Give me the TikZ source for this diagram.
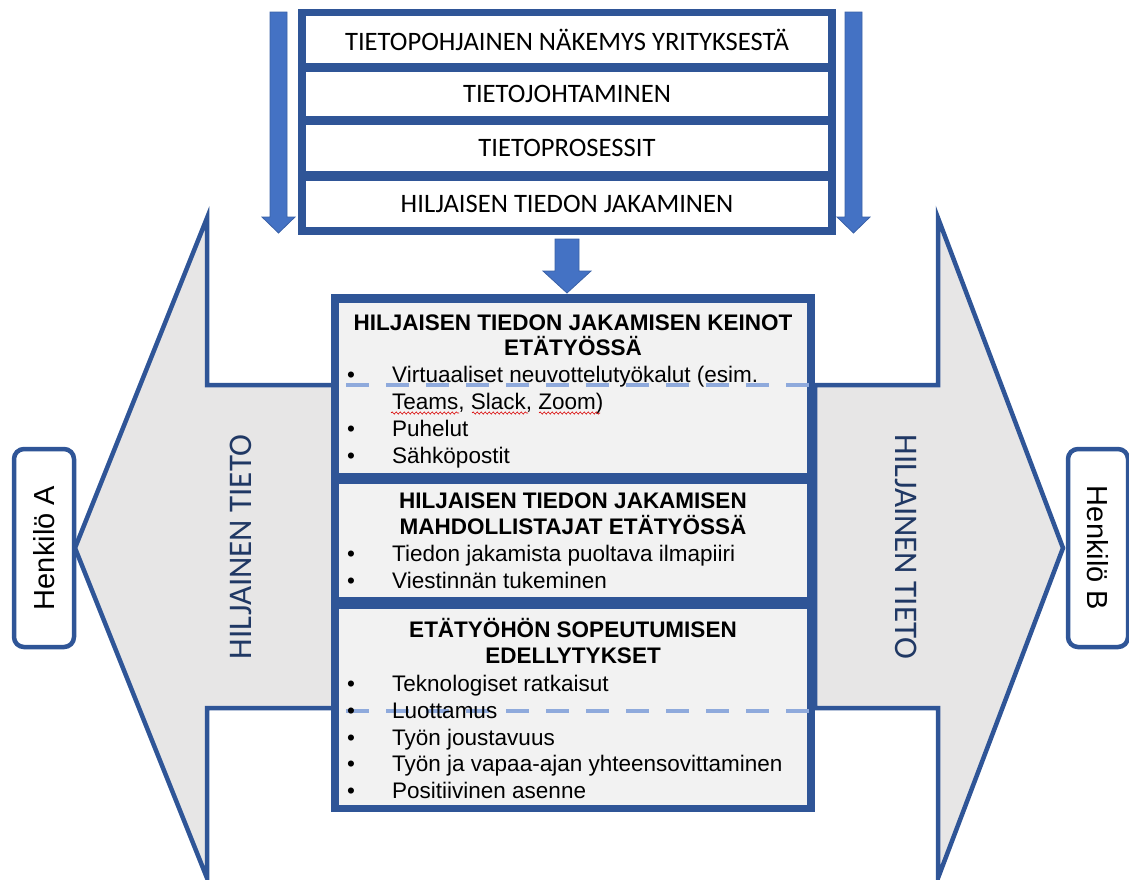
\documentclass[tikz,border=0pt]{standalone}
\usepackage{fontspec}
\setmainfont{Liberation Sans}
\newfontfamily\calib{Carlito}
\usetikzlibrary{decorations.pathmorphing}
\definecolor{frameblue}{HTML}{2F5597}
\definecolor{arrowblue}{HTML}{4472C4}
\definecolor{arrowgray}{HTML}{E7E6E6}
\definecolor{boxgray}{HTML}{F2F2F2}
\definecolor{dashblue}{HTML}{8FAADC}
\definecolor{navy}{HTML}{203864}
\tikzset{
  bigarrow/.style={fill=arrowgray, draw=frameblue, line width=4.5pt, line join=miter},
  downarrow/.style={fill=arrowblue, draw=arrowblue!85!black, line width=0.8pt},
  rowbox/.style={fill=white, inner sep=0pt, minimum width=522pt, font=\calib\fontsize{26.6}{30}\selectfont},
  secbox/.style={fill=boxgray, inner sep=0pt, minimum width=468pt},
  person/.style={draw=frameblue, fill=white, line width=4.5pt, rounded corners=10pt, minimum width=60pt, minimum height=198pt, inner sep=0pt},
  persontext/.style={font=\fontsize{29}{32}\selectfont},
  tacit/.style={font=\calib\fontsize{33}{36}\selectfont, text=navy},
  ttl/.style={font=\bfseries\fontsize{22.5}{27}\selectfont, anchor=base, inner sep=0pt},
  itm/.style={font=\fontsize{22.5}{27}\selectfont, anchor=base west, inner sep=0pt},
  dashline/.style={draw=dashblue, line width=4.5pt, dash pattern=on 23pt off 17pt},
  squiggle/.style={draw=red!85!black, line width=0.6pt, decorate, decoration={snake, amplitude=1.1pt, segment length=4pt}}
}
\begin{document}
\begin{tikzpicture}[x=1pt,y=-1pt]
\useasboundingbox (0,0) rectangle (1129,879);

% big gray arrows
\filldraw[bigarrow] (335,385) -- (207,385) -- (207,218) -- (75,548) -- (207,878) -- (207,708) -- (335,708) -- cycle;
\filldraw[bigarrow] (815,385) -- (938,385) -- (938,218) -- (1063,548) -- (938,878) -- (938,708) -- (815,708) -- cycle;

% persons
\node[person] (pa) at (44,548) {};
\node[persontext, rotate=90] (pat) at (pa.center) {Henkilö A};
\node[person] (pb) at (1098,548) {};
\node[persontext, rotate=-90] (pbt) at (pb.center) {Henkilö B};

% tacit knowledge labels
\node[tacit, rotate=90] (tl) at (241,547) {HILJAINEN TIETO};
\node[tacit, rotate=-90] (tr) at (906,547) {HILJAINEN TIETO};

% top frame
\node[fill=frameblue, inner sep=0pt, minimum width=538pt, minimum height=226pt] (top) at (567,122) {};
\node[rowbox, minimum height=47pt] (r1) at (567,39.5) {TIETOPOHJAINEN NÄKEMYS YRITYKSESTÄ};
\node[rowbox, minimum height=44pt] (r2) at (567,94) {TIETOJOHTAMINEN};
\node[rowbox, minimum height=46pt] (r3) at (567,148) {TIETOPROSESSIT};
\node[rowbox, minimum height=46pt] (r4) at (567,204) {HILJAISEN TIEDON JAKAMINEN};

% side down arrows
\filldraw[downarrow] (270,12) -- (287,12) -- (287,217) -- (295,217) -- (278.5,233) -- (262,217) -- (270,217) -- cycle;
\filldraw[downarrow] (845,12) -- (862,12) -- (862,217) -- (870,217) -- (853.5,233) -- (837,217) -- (845,217) -- cycle;
% center down arrow
\filldraw[downarrow] (555,239) -- (579,239) -- (579,271) -- (591,271) -- (567,293) -- (543,271) -- (555,271) -- cycle;

% middle box
\node[fill=frameblue, inner sep=0pt, minimum width=484pt, minimum height=518pt] (mid) at (573,553) {};
\node[secbox, minimum height=170pt] (s1) at (573,387.5) {};
\node[secbox, minimum height=113pt] (s2) at (573,540.5) {};
\node[secbox, minimum height=196pt] (s3) at (573,706.5) {};

% dashed lines (arrow edges)
\draw[dashline] (346,385) -- (812,385);
\draw[dashline] (346,711) -- (812,711);

% section 1
\node[ttl] (t11) at (573,330) {HILJAISEN TIEDON JAKAMISEN KEINOT};
\node[ttl] (t12) at (573,355) {ETÄTYÖSSÄ};
\node[itm] (b11) at (347,382) {•};
\node[itm] (i11) at (392,382) {Virtuaaliset neuvottelutyökalut (esim.};
\node[itm] (i11b) at (392,409) {Teams, Slack, Zoom)};
\node[itm] (b12) at (347,436) {•};
\node[itm] (i12) at (392,436) {Puhelut};
\node[itm] (b13) at (347,463) {•};
\node[itm] (i13) at (392,463) {Sähköpostit};
\draw[squiggle] (391,413) -- (459,413);
\draw[squiggle] (472,413) -- (528,413);
\draw[squiggle] (539,413) -- (600,413);

% section 2
\node[ttl] (t21) at (573,508) {HILJAISEN TIEDON JAKAMISEN};
\node[ttl] (t22) at (573,534) {MAHDOLLISTAJAT ETÄTYÖSSÄ};
\node[itm] (b21) at (347,561) {•};
\node[itm] (i21) at (392,561) {Tiedon jakamista puoltava ilmapiiri};
\node[itm] (b22) at (347,588) {•};
\node[itm] (i22) at (392,588) {Viestinnän tukeminen};

% section 3
\node[ttl] (t31) at (573,637) {ETÄTYÖHÖN SOPEUTUMISEN};
\node[ttl] (t32) at (573,663) {EDELLYTYKSET};
\node[itm] (b31) at (347,691) {•};
\node[itm] (i31) at (392,691) {Teknologiset ratkaisut};
\node[itm] (b32) at (347,718) {•};
\node[itm] (i32) at (392,718) {Luottamus};
\node[itm] (b33) at (347,745) {•};
\node[itm] (i33) at (392,745) {Työn joustavuus};
\node[itm] (b34) at (347,771) {•};
\node[itm] (i34) at (392,771) {Työn ja vapaa-ajan yhteensovittaminen};
\node[itm] (b35) at (347,798) {•};
\node[itm] (i35) at (392,798) {Positiivinen asenne};
\end{tikzpicture}
\end{document}
